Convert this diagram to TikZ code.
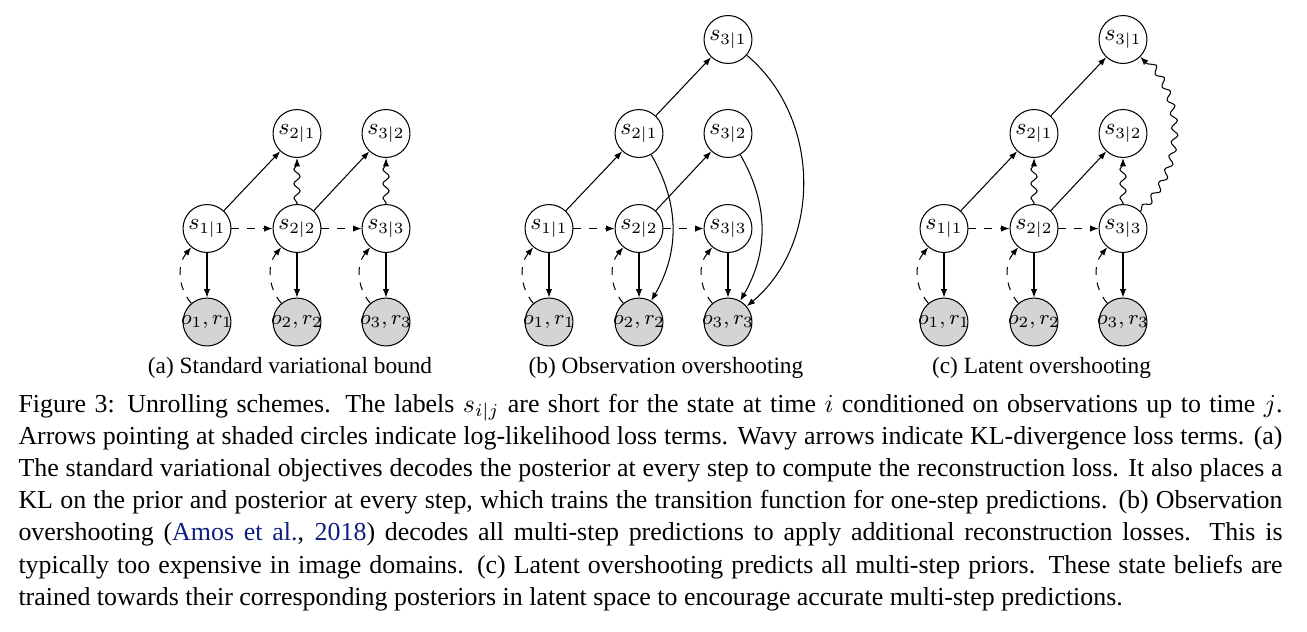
\documentclass[tikz,border=0pt]{standalone}
\usepackage{fontspec}
\setmainfont{Liberation Serif}
\usetikzlibrary{arrows.meta,decorations.pathmorphing}
\definecolor{citeblue}{rgb}{0.05,0.12,0.5}
\definecolor{obsgray}{gray}{0.83}
\newlength{\captw}
\setlength{\captw}{487.9pt}
\begin{document}
\begin{tikzpicture}[x=0.386pt,y=0.386pt,
  st/.style={circle,draw,minimum size=18.5pt,inner sep=0pt,font=\fontsize{9}{10}\selectfont},
  ob/.style={st,fill=obsgray,font=\fontsize{8.4}{10}\selectfont},
  arr/.style={-{Latex[length=3.2pt,width=2.4pt]}},
  dsh/.style={arr,dashed},
  wavy/.style={arr,decorate,decoration={snake,amplitude=1.2pt,segment length=5.6pt,post length=1.5pt,pre length=0.5pt}},
  capline/.style={anchor=base west,inner sep=0pt,font=\fontsize{10}{12}\selectfont},
  subcap/.style={anchor=base,inner sep=0pt,font=\fontsize{9}{11}\selectfont}
]
\useasboundingbox (0,0) rectangle (1307,-631);

% ---------- (a) ----------
\node[st] (a11) at (207,-228.5) {$s_{1|1}$};
\node[st] (a22) at (297,-228.5) {$s_{2|2}$};
\node[st] (a33) at (386,-228.5) {$s_{3|3}$};
\node[st] (a21) at (297,-133.5) {$s_{2|1}$};
\node[st] (a32) at (386,-133.5) {$s_{3|2}$};
\node[ob] (ao1) at (207,-322) {\makebox[0pt]{$o_1,r_1$}};
\node[ob] (ao2) at (297,-322) {\makebox[0pt]{$o_2,r_2$}};
\node[ob] (ao3) at (386,-322) {\makebox[0pt]{$o_3,r_3$}};
\draw[dsh] (a11) -- (a22);
\draw[dsh] (a22) -- (a33);
\draw[arr] (a11) -- (ao1);
\draw[arr] (a22) -- (ao2);
\draw[arr] (a33) -- (ao3);
\draw[dsh] (ao1) to[bend left=40] (a11);
\draw[dsh] (ao2) to[bend left=40] (a22);
\draw[dsh] (ao3) to[bend left=40] (a33);
\draw[arr] (a11) -- (a21);
\draw[arr] (a22) -- (a32);
\draw[wavy] (a22) -- (a21);
\draw[wavy] (a33) -- (a32);
\node[subcap] (capa) at (290,-373) {(a) Standard variational bound};

% ---------- (b) ----------
\node[st] (b11) at (549,-228.5) {$s_{1|1}$};
\node[st] (b22) at (639,-228.5) {$s_{2|2}$};
\node[st] (b33) at (728,-228.5) {$s_{3|3}$};
\node[st] (b21) at (639,-133.5) {$s_{2|1}$};
\node[st] (b32) at (728,-133.5) {$s_{3|2}$};
\node[st] (b31) at (728,-39.5) {$s_{3|1}$};
\node[ob] (bo1) at (549,-322) {\makebox[0pt]{$o_1,r_1$}};
\node[ob] (bo2) at (639,-322) {\makebox[0pt]{$o_2,r_2$}};
\node[ob] (bo3) at (728,-322) {\makebox[0pt]{$o_3,r_3$}};
\draw[dsh] (b11) -- (b22);
\draw[dsh] (b22) -- (b33);
\draw[arr] (b11) -- (bo1);
\draw[arr] (b22) -- (bo2);
\draw[arr] (b33) -- (bo3);
\draw[dsh] (bo1) to[bend left=40] (b11);
\draw[dsh] (bo2) to[bend left=40] (b22);
\draw[dsh] (bo3) to[bend left=40] (b33);
\draw[arr] (b11) -- (b21);
\draw[arr] (b22) -- (b32);
\draw[arr] (b21) -- (b31);
\draw[arr] (b21) to[bend left=30] (bo2);
\draw[arr] (b32) to[bend left=30] (bo3);
\draw[arr] (b31) to[bend left=50] (bo3);
\node[subcap] (capb) at (666,-373) {(b) Observation overshooting};

% ---------- (c) ----------
\node[st] (c11) at (944,-228.5) {$s_{1|1}$};
\node[st] (c22) at (1034,-228.5) {$s_{2|2}$};
\node[st] (c33) at (1123,-228.5) {$s_{3|3}$};
\node[st] (c21) at (1034,-133.5) {$s_{2|1}$};
\node[st] (c32) at (1123,-133.5) {$s_{3|2}$};
\node[st] (c31) at (1123,-39.5) {$s_{3|1}$};
\node[ob] (co1) at (944,-322) {\makebox[0pt]{$o_1,r_1$}};
\node[ob] (co2) at (1034,-322) {\makebox[0pt]{$o_2,r_2$}};
\node[ob] (co3) at (1123,-322) {\makebox[0pt]{$o_3,r_3$}};
\draw[dsh] (c11) -- (c22);
\draw[dsh] (c22) -- (c33);
\draw[arr] (c11) -- (co1);
\draw[arr] (c22) -- (co2);
\draw[arr] (c33) -- (co3);
\draw[dsh] (co1) to[bend left=40] (c11);
\draw[dsh] (co2) to[bend left=40] (c22);
\draw[dsh] (co3) to[bend left=40] (c33);
\draw[arr] (c11) -- (c21);
\draw[arr] (c22) -- (c32);
\draw[arr] (c21) -- (c31);
\draw[wavy] (c22) -- (c21);
\draw[wavy] (c33) -- (c32);
\draw[wavy] (c33) to[bend right=45] (c31);
\node[subcap] (capc) at (1041.5,-373) {(c) Latent overshooting};

% ---------- caption ----------
\node[capline] (cap1) at (18,-412) {\makebox[\captw][s]{Figure 3: Unrolling schemes. The labels $s_{i|j}$ are short for the state at time $i$ conditioned on observations up to time $j$.}};
\node[capline] (cap2) at (18,-444.2) {\makebox[\captw][s]{Arrows pointing at shaded circles indicate log-likelihood loss terms. Wavy arrows indicate KL-divergence loss terms. (a)}};
\node[capline] (cap3) at (18,-476.4) {\makebox[\captw][s]{The standard variational objectives decodes the posterior at every step to compute the reconstruction loss. It also places a}};
\node[capline] (cap4) at (18,-508.6) {\makebox[\captw][s]{KL on the prior and posterior at every step, which trains the transition function for one-step predictions. (b) Observation}};
\node[capline] (cap5) at (18,-540.8) {\makebox[\captw][s]{overshooting ({\color{citeblue}Amos et al.}, {\color{citeblue}2018}) decodes all multi-step predictions to apply additional reconstruction losses. This is}};
\node[capline] (cap6) at (18,-573) {\makebox[\captw][s]{typically too expensive in image domains. (c) Latent overshooting predicts all multi-step priors. These state beliefs are}};
\node[capline] (cap7) at (18,-605.2) {trained towards their corresponding posteriors in latent space to encourage accurate multi-step predictions.};
\end{tikzpicture}
\end{document}
